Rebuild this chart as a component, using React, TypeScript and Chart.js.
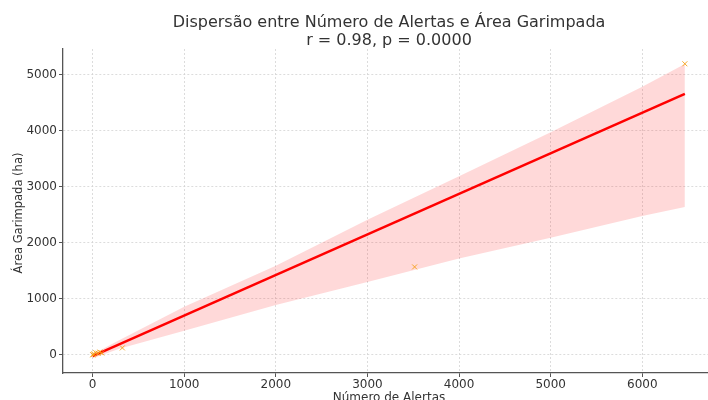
import React, { useEffect, useRef } from "react";
import { Chart, registerables } from "chart.js";

Chart.register(...registerables);

const titleLine1 = "Dispersão entre Número de Alertas e Área Garimpada";
const titleLine2 = "r = 0.98, p = 0.0000";
const xTitle = "Número de Alertas";
const yTitle = "Área Garimpada (ha)";

const alertCounts = [2, 15, 35, 60, 80, 100, 5, 325, 3515, 6465];
const areaValues = [1, 20, 40, 30, 50, 35, 5, 125, 1570, 5195];

const fitX = [0, 6465];
const fitY = [-22, 4660];

const bandX = [0, 300, 1000, 2000, 3000, 4000, 5000, 6000, 6465];
const bandUpper = [10, 270, 860, 1590, 2410, 3190, 3975, 4785, 5190];
const bandLower = [-60, 115, 430, 890, 1300, 1720, 2090, 2480, 2640];

const xTicks = [0, 1000, 2000, 3000, 4000, 5000, 6000];
const yTicks = [0, 1000, 2000, 3000, 4000, 5000];

const FONT = "'DejaVu Sans', sans-serif";
const TEXT = "#333333";

const textPlugin = {
  id: "texts",
  afterDraw(chart: any) {
    const ctx = chart.ctx;
    const area = chart.chartArea;
    const cx = (area.left + area.right) / 2;
    ctx.save();
    ctx.fillStyle = TEXT;
    ctx.textAlign = "center";
    ctx.textBaseline = "alphabetic";
    ctx.font = `16px ${FONT}`;
    ctx.fillText(titleLine1, cx, 27);
    ctx.fillText(titleLine2, cx, 45);
    ctx.font = `12px ${FONT}`;
    ctx.fillText(xTitle, cx, 401);
    ctx.font = `11.5px ${FONT}`;
    ctx.translate(22, 213);
    ctx.rotate(-Math.PI / 2);
    ctx.fillText(yTitle, 0, 0);
    ctx.restore();
  },
};

export default function App() {
  const ref = useRef<HTMLCanvasElement | null>(null);
  useEffect(() => {
    document.body.style.margin = "0";
    const canvas = ref.current!;
    const tickCommon = {
      color: TEXT,
      font: { family: FONT, size: 12 },
      callback: (v: any) => String(v),
    };
    const chart = new Chart(canvas, {
      type: "scatter",
      data: {
        datasets: [
          {
            type: "scatter",
            data: alertCounts.map((x, i) => ({ x, y: areaValues[i] })),
            pointStyle: "crossRot",
            pointRadius: 3.5,
            borderWidth: 1,
            borderColor: "rgba(245,160,20,0.9)",
            backgroundColor: "rgba(245,160,20,0.9)",
            order: 0,
          } as any,
          {
            type: "line",
            data: fitX.map((x, i) => ({ x, y: fitY[i] })),
            borderColor: "#ff0000",
            borderWidth: 2.5,
            pointRadius: 0,
            fill: false,
            order: 1,
          } as any,
          {
            type: "line",
            data: bandX.map((x, i) => ({ x, y: bandLower[i] })),
            borderWidth: 0,
            borderColor: "rgba(0,0,0,0)",
            pointRadius: 0,
            fill: false,
            order: 3,
          } as any,
          {
            type: "line",
            data: bandX.map((x, i) => ({ x, y: bandUpper[i] })),
            borderWidth: 0,
            borderColor: "rgba(0,0,0,0)",
            backgroundColor: "rgba(255,0,0,0.15)",
            pointRadius: 0,
            fill: "-1",
            order: 2,
          } as any,
        ],
      },
      options: {
        responsive: false,
        animation: false,
        layout: { padding: { top: 49, right: 1, left: 0, bottom: 0 } },
        plugins: {
          legend: { display: false },
          title: { display: false },
          tooltip: { enabled: false },
        },
        scales: {
          x: {
            type: "linear",
            min: -323,
            max: 6794,
            afterBuildTicks: (s: any) => {
              s.ticks = xTicks.map((v) => ({ value: v }));
            },
            afterFit: (s: any) => {
              s.height = 27;
            },
            ticks: { ...tickCommon, padding: 1, maxRotation: 0 },
            grid: {
              color: "#d4d4d4",
              lineWidth: 0.8,
              tickLength: 4,
              tickColor: "#555555",
              tickWidth: 1,
              tickBorderDash: [],
            },
            border: { display: true, color: "#555555", width: 1.3, dash: [2, 2] },
          },
          y: {
            type: "linear",
            min: -323,
            max: 5459,
            afterBuildTicks: (s: any) => {
              s.ticks = yTicks.map((v) => ({ value: v }));
            },
            afterFit: (s: any) => {
              s.width = 63;
            },
            ticks: { ...tickCommon, padding: 2 },
            grid: {
              color: "#d4d4d4",
              lineWidth: 0.8,
              tickLength: 4,
              tickColor: "#555555",
              tickWidth: 1,
              tickBorderDash: [],
            },
            border: { display: true, color: "#555555", width: 1.3, dash: [2, 2] },
          },
        },
      },
      plugins: [textPlugin],
    });
    return () => chart.destroy();
  }, []);
  return (
    <div style={{ position: "fixed", left: 0, top: 0, width: 708, height: 400, overflow: "hidden", background: "#fff" }}>
      <canvas ref={ref} width={720} height={400} style={{ display: "block" }} />
    </div>
  );
}
